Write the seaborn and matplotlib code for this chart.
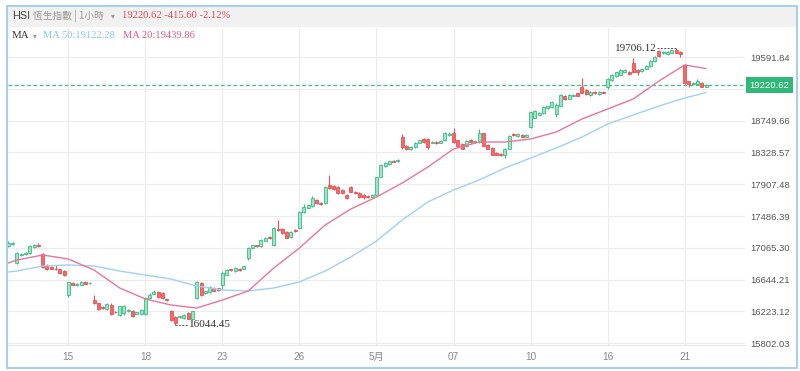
import numpy as np
import pandas as pd
import matplotlib
matplotlib.use('Agg')
import matplotlib.pyplot as plt
import matplotlib.transforms as mtransforms
from matplotlib.patches import Rectangle
import seaborn as sns

sns.set_style('white')
plt.rcParams['font.family'] = ['Liberation Sans', 'DejaVu Sans', 'Noto Sans CJK TC']
SERIF = ['Liberation Serif', 'DejaVu Serif']
CJK = ['Noto Sans CJK TC', 'DejaVu Sans']

# ---- data (HSI, hourly bars) ----
trade_days = ['04-10', '04-11', '04-12', '04-15', '04-16', '04-17', '04-18', '04-19',
              '04-22', '04-23', '04-24', '04-25', '04-26', '04-29', '04-30',
              '05-02', '05-03', '05-06', '05-07', '05-08', '05-09', '05-10',
              '05-13', '05-14', '05-16', '05-17', '05-20', '05-21']
bars_per_day = [2] + [6] * 27

opens = [17090, 17120,
         16865, 16970, 16985, 16995, 17080, 17110,
         16985, 16840, 16810, 16790, 16780, 16760,
         16442, 16600, 16575, 16580, 16620, 16595,
         16375, 16335, 16280, 16255, 16310, 16220,
         16180, 16200, 16225, 16230, 16195, 16190,
         16190, 16400, 16460, 16480, 16470, 16390,
         16230, 16150, 16150, 16140, 16200, 16130,
         16400, 16600, 16470, 16480, 16540, 16530,
         16570, 16710, 16780, 16760, 16790, 16790,
         16930, 17070, 17100, 17090, 17160, 17210,
         17110, 17320, 17320, 17280, 17210, 17300,
         17330, 17540, 17600, 17620, 17700, 17660,
         17660, 17900, 17890, 17870, 17830, 17770,
         17870, 17810, 17790, 17770, 17750, 17740,
         17760, 18010, 18150, 18170, 18220, 18210,
         18530, 18420, 18370, 18400, 18460, 18510,
         18510, 18460, 18470, 18460, 18490, 18560,
         18590, 18490, 18440, 18410, 18500, 18470,
         18470, 18580, 18430, 18390, 18320, 18310,
         18290, 18380, 18570, 18550, 18560, 18540,
         18670, 18790, 18830, 18850, 18920, 18930,
         18840, 18950, 19080, 19040, 19080, 19110,
         19200, 19160, 19090, 19130, 19100, 19130,
         19190, 19290, 19340, 19360, 19400, 19400,
         19510, 19420, 19410, 19440, 19470, 19540,
         19670, 19640, 19630, 19650, 19680, 19660,
         19490, 19270, 19240, 19230, 19250, 19200]
highs = [17150, 17140,
         17010, 17000, 17010, 17110, 17120, 17125,
         17000, 16850, 16820, 16840, 16790, 16775,
         16620, 16620, 16595, 16630, 16630, 16610,
         16442, 16340, 16290, 16330, 16330, 16230,
         16300, 16310, 16250, 16240, 16215, 16255,
         16410, 16470, 16510, 16490, 16480, 16395,
         16245, 16160, 16170, 16190, 16210, 16230,
         16630, 16610, 16500, 16560, 16550, 16540,
         16760, 16780, 16790, 16810, 16800, 16830,
         17080, 17110, 17110, 17180, 17210, 17220,
         17340, 17435, 17330, 17290, 17290, 17310,
         17560, 17640, 17640, 17750, 17710, 17670,
         17880, 18030, 17900, 17880, 17840, 17780,
         17890, 17820, 17800, 17780, 17760, 17780,
         18010, 18180, 18200, 18220, 18230, 18240,
         18570, 18430, 18410, 18470, 18500, 18520,
         18520, 18480, 18480, 18490, 18600, 18600,
         18650, 18500, 18450, 18490, 18510, 18490,
         18640, 18590, 18440, 18400, 18330, 18320,
         18390, 18560, 18580, 18580, 18570, 18570,
         18870, 18890, 18860, 18950, 18950, 19010,
         18980, 19100, 19090, 19100, 19100, 19120,
         19315, 19170, 19140, 19140, 19140, 19140,
         19310, 19370, 19400, 19430, 19430, 19410,
         19580, 19430, 19440, 19490, 19550, 19600,
         19690, 19670, 19670, 19690, 19706.12, 19670,
         19500, 19280, 19260, 19300, 19260, 19230]
lows = [17080, 17110,
        16850, 16960, 16975, 16990, 17070, 17080,
        16800, 16770, 16780, 16770, 16720, 16690,
        16420, 16570, 16565, 16575, 16585, 16585,
        16320, 16240, 16255, 16245, 16180, 16200,
        16165, 16180, 16215, 16150, 16185, 16185,
        16180, 16390, 16450, 16400, 16395, 16360,
        16100, 16044.45, 16140, 16130, 16120, 16110,
        16390, 16430, 16460, 16470, 16490, 16495,
        16520, 16700, 16760, 16750, 16765, 16785,
        16900, 17060, 17080, 17080, 17150, 17185,
        17090, 17290, 17250, 17190, 17200, 17280,
        17310, 17530, 17590, 17610, 17650, 17630,
        17640, 17850, 17830, 17780, 17780, 17710,
        17800, 17780, 17730, 17710, 17730, 17735,
        17750, 18000, 18140, 18160, 18200, 18200,
        18380, 18360, 18360, 18390, 18450, 18460,
        18380, 18450, 18440, 18450, 18480, 18550,
        18460, 18410, 18370, 18400, 18460, 18460,
        18460, 18410, 18370, 18290, 18290, 18280,
        18250, 18370, 18550, 18540, 18530, 18530,
        18650, 18780, 18820, 18840, 18910, 18920,
        18800, 18940, 19020, 19030, 19070, 19070,
        19110, 19090, 19080, 19100, 19090, 19110,
        19170, 19280, 19330, 19350, 19395, 19360,
        19390, 19360, 19400, 19430, 19460, 19530,
        19590, 19630, 19620, 19640, 19640, 19590,
        19230, 19200, 19230, 19220, 19190, 19190]
closes = [17130, 17130,
          16995, 16990, 17000, 17090, 17100, 17095,
          16810, 16785, 16790, 16780, 16730, 16700,
          16610, 16580, 16585, 16620, 16590, 16605,
          16335, 16255, 16265, 16320, 16190, 16210,
          16295, 16290, 16240, 16160, 16210, 16245,
          16400, 16440, 16480, 16410, 16400, 16370,
          16110, 16070, 16160, 16180, 16130, 16225,
          16615, 16440, 16490, 16550, 16500, 16505,
          16730, 16770, 16770, 16800, 16775, 16820,
          17060, 17100, 17090, 17170, 17200, 17190,
          17330, 17300, 17260, 17200, 17280, 17290,
          17540, 17610, 17630, 17730, 17660, 17640,
          17870, 17860, 17840, 17790, 17790, 17720,
          17810, 17790, 17740, 17740, 17740, 17770,
          18000, 18160, 18190, 18210, 18205, 18230,
          18400, 18370, 18400, 18460, 18490, 18470,
          18400, 18470, 18450, 18480, 18590, 18570,
          18470, 18420, 18380, 18480, 18470, 18480,
          18580, 18420, 18380, 18300, 18300, 18290,
          18380, 18550, 18560, 18570, 18540, 18560,
          18860, 18880, 18850, 18930, 18940, 19000,
          18960, 19090, 19030, 19090, 19090, 19080,
          19120, 19100, 19130, 19110, 19130, 19120,
          19300, 19350, 19390, 19420, 19420, 19370,
          19400, 19390, 19430, 19480, 19540, 19590,
          19600, 19660, 19660, 19680, 19650, 19630,
          19250, 19230, 19250, 19270, 19200, 19220.62]
prev_close = 19636.22

# moving averages read at the first bar of each day (and the last bar)
ma20 = [16865, 16905, 16971, 16918, 16772, 16534, 16389, 16309, 16269, 16375,
        16494, 16799, 17064, 17368, 17580, 17739, 17924, 18136, 18375, 18467,
        18467, 18507, 18600, 18772, 18904, 19037, 19275, 19487, 19439.86]
ma50 = [16746, 16759, 16825, 16839, 16825, 16759, 16706, 16653, 16561, 16508,
        16494, 16534, 16614, 16759, 16945, 17156, 17434, 17673, 17832, 17964,
        18123, 18255, 18388, 18533, 18706, 18825, 18944, 19050, 19122.28]

tick_days = ['04-15', '04-18', '04-23', '04-26', '05-02', '05-07', '05-10', '05-16', '05-21']
tick_labels = ['15', '18', '23', '26', '5月', '07', '10', '16', '21']
ytick_vals = [15802.03, 16223.12, 16644.21, 17065.30, 17486.39, 17907.48,
              18328.57, 18749.66, 19170.75, 19591.84]

# ---- frames ----
df = pd.DataFrame({'open': opens, 'high': highs, 'low': lows, 'close': closes})
df['i'] = np.arange(len(df))
df['day'] = np.repeat(trade_days, bars_per_day)
day_start = df.groupby('day', sort=False)['i'].min()
ma_idx = list(day_start.values) + [len(df) - 1]
ma_df = pd.DataFrame({'i': ma_idx, 'MA20': ma20, 'MA50': ma50})

GREEN_F, GREEN_E = '#a3e2c4', '#35bf83'
RED_F, RED_E = '#f26a6a', '#ea4f52'
W, H = 800, 371

def fx(px):
    return px / W

def fy(py):
    return 1 - py / H

fig = plt.figure(figsize=(8, 3.71), dpi=100)
ax = fig.add_axes([fx(8), fy(345), 737 / W, 317 / H])

# header band + outer frame
fig.patches.append(Rectangle((fx(8), fy(27)), fx(789), 20 / H, transform=fig.transFigure,
                             fc='#f1f1f1', ec='none', zorder=0))
fig.patches.append(Rectangle((fx(7), fy(368)), fx(790), 362 / H, transform=fig.transFigure,
                             fc='none', ec='#9ccbef', lw=1.3, zorder=5))

# grid
for v in ytick_vals:
    ax.axhline(v, color='#ececec', lw=0.8, zorder=0)
tick_pos = [day_start[d] for d in tick_days]
for p in tick_pos:
    ax.axvline(p, color='#ececec', lw=0.8, zorder=0)

# candles
up = df['close'] >= df['open']
face = np.where(up, GREEN_F, RED_F)
edge = np.where(up, GREEN_E, RED_E)
ax.vlines(df['i'], df['low'], df['high'], colors=edge, lw=0.8, zorder=2)
body_lo = df[['open', 'close']].min(axis=1)
body_h = (df['close'] - df['open']).abs().clip(lower=9)
ax.bar(df['i'], body_h, bottom=body_lo, width=0.7, color=face, edgecolor=edge,
       linewidth=0.6, zorder=3)

# moving averages
sns.lineplot(data=ma_df, x='i', y='MA50', ax=ax, color='#9fd0f5', lw=1.0, zorder=4)
sns.lineplot(data=ma_df, x='i', y='MA20', ax=ax, color='#ea7598', lw=1.0, zorder=4)

# last price line + label
last = closes[-1]
ax.axhline(last, color='#3dbf85', lw=0.9, ls=(0, (3, 2)), zorder=1)
trans = mtransforms.blended_transform_factory(ax.transAxes, ax.transData)
ax.text(1.006, last, f'{last:.2f}', transform=trans, ha='left', va='center',
        fontsize=6.8, color='white', zorder=10, clip_on=False,
        bbox=dict(boxstyle='square,pad=0.4', fc='#2fb877', ec='none'))

# max / min annotations
ih = int(np.argmax(highs))
ax.plot([ih - 4.5, ih], [highs[ih]] * 2, color='#555555', lw=0.7, ls=(0, (2, 1.5)), zorder=5)
ax.text(ih - 4.6, highs[ih], f'{highs[ih]:.2f}', ha='right', va='center', fontsize=8,
        color='#333333', zorder=6, family=SERIF)
il = int(np.argmin(lows))
ax.plot([il, il + 3.0], [lows[il]] * 2, color='#555555', lw=0.7, ls=(0, (2, 1.5)), zorder=5)
ax.text(il + 3.1, lows[il], f'{lows[il]:.2f}', ha='left', va='center', fontsize=8,
        color='#333333', zorder=6, family=SERIF)

# axes styling
ax.set_xlim(-0.1, 172.1)
ax.set_ylim(15779.5, 19976.6)
ax.set_xticks(tick_pos)
ax.set_xticklabels(tick_labels)
ax.yaxis.tick_right()
ax.set_yticks(ytick_vals)
ax.set_yticklabels(['' if v == 19170.75 else f'{v:.2f}' for v in ytick_vals])
ax.tick_params(axis='y', length=0, pad=4, labelsize=6.8, labelcolor='#555555')
ax.tick_params(axis='x', length=0, pad=5, labelsize=7.2, labelcolor='#888888')
ax.set_xlabel('')
ax.set_ylabel('')
for s in ['top', 'left', 'right']:
    ax.spines[s].set_visible(False)
ax.spines['bottom'].set_color('#e6e6e6')
ax.spines['bottom'].set_linewidth(0.8)
ax.patch.set_alpha(0)

# header texts
chg = last - prev_close
pct = chg / prev_close * 100
fig.text(fx(12), fy(16), 'HSI', fontsize=7.8, color='#444444', va='center')
fig.text(fx(33), fy(16), '恆生指數 | 1小時', fontsize=7, color='#9a9a9a', va='center',
         family=CJK)
fig.text(fx(111), fy(16), '▾', fontsize=5.5, color='#9a9a9a', va='center', family='DejaVu Sans')
fig.text(fx(122), fy(16), f'{last:.2f} {chg:.2f} {pct:.2f}%', fontsize=7.6,
         color='#e8494e', va='center', family=SERIF)
fig.text(fx(12), fy(36), 'MA', fontsize=7.8, color='#333333', va='center', family=SERIF)
fig.text(fx(33), fy(36), '▾', fontsize=5.5, color='#9a9a9a', va='center', family='DejaVu Sans')
fig.text(fx(43), fy(36), f'MA 50:{ma50[-1]:.2f}', fontsize=7.6, color='#86c6f2', va='center',
         family=SERIF)
fig.text(fx(123), fy(36), f'MA 20:{ma20[-1]:.2f}', fontsize=7.6, color='#e5587f', va='center',
         family=SERIF)

fig.savefig('out.png', dpi=100)
